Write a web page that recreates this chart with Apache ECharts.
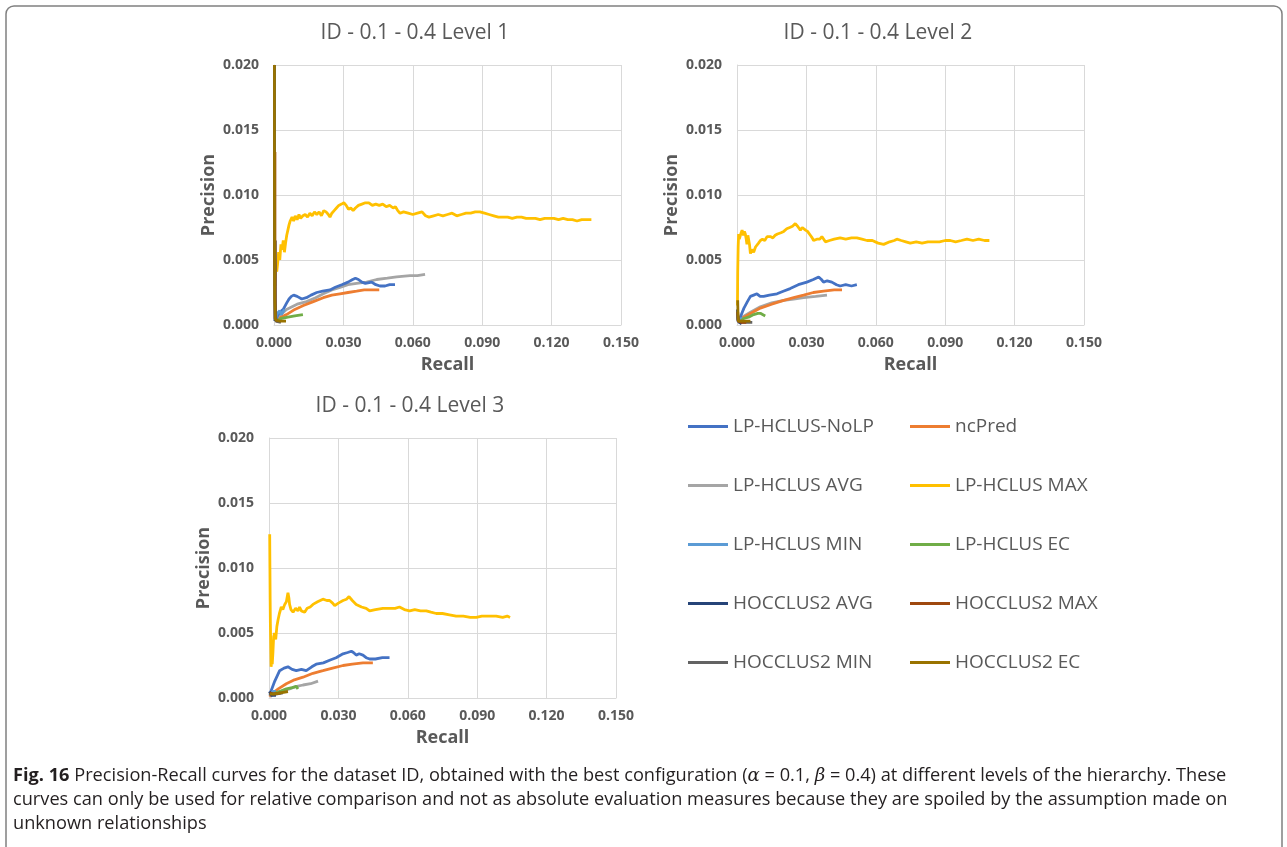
<!DOCTYPE html>
<html>
<head>
<meta charset="utf-8">
<script src="https://cdn.jsdelivr.net/npm/echarts@6/dist/echarts.min.js"></script>
<style>html,body{margin:0;padding:0;background:#fff}#c{width:1287px;height:847px}</style>
</head>
<body>
<div id="c"></div>
<script>
// ---------- tick labels / names ----------
const xTicks = [0, 0.03, 0.06, 0.09, 0.12, 0.15];
const yTicks = [0, 0.005, 0.01, 0.015, 0.02];
const chartTitles = ['ID - 0.1 - 0.4 Level 1', 'ID - 0.1 - 0.4 Level 2', 'ID - 0.1 - 0.4 Level 3'];
const seriesNames = ['LP-HCLUS-NoLP', 'ncPred', 'LP-HCLUS AVG', 'LP-HCLUS MAX', 'LP-HCLUS MIN',
  'LP-HCLUS EC', 'HOCCLUS2 AVG', 'HOCCLUS2 MAX', 'HOCCLUS2 MIN', 'HOCCLUS2 EC'];
const seriesColors = ['#4472C4', '#ED7D31', '#A5A5A5', '#FFC000', '#5B9BD5',
  '#70AD47', '#264478', '#9E480E', '#636363', '#997300'];

// ---------- Level 1 data: [recall, precision] ----------
const l1_noLP = [[0.0005,0.0003],[0.0015,0.0007],[0.0025,0.0010],[0.0040,0.0012],[0.0055,0.0017],[0.0065,0.0020],[0.0075,0.0022],[0.0085,0.0023],[0.0100,0.0022],[0.0120,0.0020],[0.0140,0.0021],[0.0160,0.0023],[0.0185,0.0025],[0.0210,0.0026],[0.0242,0.0027],[0.0265,0.0029],[0.0293,0.0031],[0.0320,0.0033],[0.0340,0.0035],[0.0352,0.0036],[0.0365,0.0035],[0.0380,0.0033],[0.0395,0.0032],[0.0422,0.0033],[0.0440,0.0031],[0.0458,0.0030],[0.0480,0.0030],[0.0500,0.0031],[0.0523,0.0031]];
const l1_ncPred = [[0.0010,0.0002],[0.0030,0.0006],[0.0054,0.0008],[0.0090,0.0012],[0.0127,0.0015],[0.0170,0.0018],[0.0213,0.0021],[0.0250,0.0023],[0.0285,0.0024],[0.0320,0.0025],[0.0357,0.0026],[0.0390,0.0027],[0.0415,0.0027],[0.0455,0.0027]];
const l1_avg = [[0.0010,0.0004],[0.0030,0.0008],[0.0054,0.0012],[0.0100,0.0016],[0.0141,0.0018],[0.0180,0.0021],[0.0213,0.0024],[0.0250,0.0027],[0.0285,0.0029],[0.0320,0.0031],[0.0357,0.0032],[0.0400,0.0033],[0.0444,0.0035],[0.0490,0.0036],[0.0530,0.0037],[0.0588,0.0038],[0.0620,0.0038],[0.0653,0.0039]];
const l1_max = [[0.0004,0.0030],[0.0008,0.0045],[0.0012,0.0041],[0.0016,0.0048],[0.0020,0.0056],[0.0025,0.0050],[0.0030,0.0062],[0.0035,0.0058],[0.0040,0.0065],[0.0045,0.0056],[0.0050,0.0063],[0.0055,0.0069],[0.0060,0.0073],[0.0065,0.0077],[0.0070,0.0080],[0.0078,0.0083],[0.0085,0.0080],[0.0092,0.0084],[0.0100,0.0081],[0.0108,0.0085],[0.0115,0.0082],[0.0125,0.0084],[0.0135,0.0085],[0.0145,0.0083],[0.0155,0.0086],[0.0165,0.0084],[0.0175,0.0087],[0.0185,0.0085],[0.0195,0.0087],[0.0205,0.0084],[0.0215,0.0088],[0.0225,0.0087],[0.0235,0.0085],[0.0242,0.0083],[0.0250,0.0086],[0.0260,0.0088],[0.0270,0.0090],[0.0280,0.0092],[0.0292,0.0093],[0.0302,0.0094],[0.0312,0.0092],[0.0322,0.0089],[0.0332,0.0090],[0.0342,0.0088],[0.0352,0.0090],[0.0365,0.0092],[0.0380,0.0093],[0.0395,0.0094],[0.0410,0.0094],[0.0425,0.0092],[0.0440,0.0093],[0.0455,0.0092],[0.0470,0.0093],[0.0485,0.0091],[0.0500,0.0092],[0.0515,0.0090],[0.0525,0.0091],[0.0535,0.0088],[0.0545,0.0086],[0.0560,0.0087],[0.0580,0.0086],[0.0600,0.0085],[0.0620,0.0086],[0.0640,0.0087],[0.0655,0.0084],[0.0670,0.0083],[0.0690,0.0084],[0.0710,0.0085],[0.0730,0.0084],[0.0750,0.0085],[0.0770,0.0086],[0.0790,0.0084],[0.0810,0.0085],[0.0830,0.0086],[0.0850,0.0086],[0.0870,0.0087],[0.0890,0.0087],[0.0910,0.0086],[0.0930,0.0085],[0.0950,0.0084],[0.0970,0.0083],[0.0990,0.0083],[0.1010,0.0083],[0.1030,0.0082],[0.1050,0.0083],[0.1070,0.0083],[0.1090,0.0082],[0.1110,0.0082],[0.1130,0.0082],[0.1150,0.0081],[0.1170,0.0082],[0.1190,0.0082],[0.1210,0.0082],[0.1230,0.0081],[0.1250,0.0082],[0.1270,0.0081],[0.1290,0.0081],[0.1310,0.0080],[0.1330,0.0081],[0.1350,0.0081],[0.1372,0.0081]];
const l1_min = [[0.0005,0.0004],[0.0015,0.0009],[0.0025,0.0011],[0.0032,0.0008],[0.0045,0.0012]];
const l1_ec = [[0.0010,0.0003],[0.0030,0.0005],[0.0060,0.0006],[0.0090,0.0007],[0.0125,0.0008]];
const l1_hAvg = [[0.0002,0.0200],[0.0002,0.0130],[0.0003,0.0040],[0.0004,0.0003]];
const l1_hMax = [[0.0004,0.0133],[0.0004,0.0050],[0.0005,0.0005],[0.0015,0.0003]];
const l1_hMin = [[0.0006,0.0065],[0.0006,0.0020],[0.0008,0.0003],[0.0030,0.0002]];
const l1_hEc = [[0.0002,0.0200],[0.0002,0.0100],[0.0003,0.0020],[0.0006,0.0004],[0.0025,0.0003],[0.0052,0.0003]];

// ---------- Level 2 data ----------
const l2_noLP = [[0.0005,0.0003],[0.0014,0.0006],[0.0030,0.0013],[0.0045,0.0018],[0.0058,0.0022],[0.0072,0.0023],[0.0086,0.0024],[0.0100,0.0022],[0.0115,0.0022],[0.0140,0.0023],[0.0173,0.0024],[0.0200,0.0026],[0.0230,0.0028],[0.0265,0.0031],[0.0302,0.0033],[0.0330,0.0035],[0.0353,0.0037],[0.0365,0.0035],[0.0374,0.0033],[0.0390,0.0034],[0.0410,0.0033],[0.0430,0.0031],[0.0446,0.0030],[0.0470,0.0031],[0.0495,0.0030],[0.0518,0.0031]];
const l2_ncPred = [[0.0008,0.0002],[0.0022,0.0005],[0.0060,0.0009],[0.0101,0.0013],[0.0150,0.0016],[0.0202,0.0019],[0.0245,0.0021],[0.0288,0.0023],[0.0330,0.0025],[0.0374,0.0026],[0.0420,0.0027],[0.0454,0.0027]];
const l2_avg = [[0.0008,0.0003],[0.0022,0.0006],[0.0060,0.0010],[0.0101,0.0014],[0.0150,0.0017],[0.0202,0.0019],[0.0245,0.0020],[0.0288,0.0021],[0.0340,0.0022],[0.0389,0.0023]];
const l2_max = [[0.0002,0.0015],[0.0003,0.0040],[0.0005,0.0060],[0.0007,0.0070],[0.0010,0.0066],[0.0014,0.0065],[0.0018,0.0071],[0.0022,0.0073],[0.0028,0.0069],[0.0032,0.0072],[0.0036,0.0070],[0.0040,0.0066],[0.0043,0.0062],[0.0047,0.0069],[0.0050,0.0070],[0.0054,0.0062],[0.0058,0.0055],[0.0065,0.0058],[0.0072,0.0056],[0.0080,0.0060],[0.0086,0.0059],[0.0093,0.0063],[0.0101,0.0065],[0.0110,0.0066],[0.0120,0.0065],[0.0130,0.0068],[0.0144,0.0068],[0.0155,0.0067],[0.0165,0.0069],[0.0175,0.0070],[0.0190,0.0071],[0.0202,0.0072],[0.0215,0.0074],[0.0228,0.0075],[0.0240,0.0076],[0.0252,0.0078],[0.0262,0.0076],[0.0274,0.0073],[0.0282,0.0075],[0.0288,0.0076],[0.0296,0.0073],[0.0305,0.0072],[0.0317,0.0069],[0.0325,0.0067],[0.0331,0.0065],[0.0345,0.0066],[0.0358,0.0066],[0.0367,0.0068],[0.0375,0.0066],[0.0382,0.0064],[0.0400,0.0065],[0.0420,0.0066],[0.0446,0.0067],[0.0470,0.0066],[0.0495,0.0067],[0.0518,0.0067],[0.0540,0.0066],[0.0562,0.0065],[0.0585,0.0065],[0.0610,0.0063],[0.0634,0.0062],[0.0660,0.0064],[0.0680,0.0065],[0.0691,0.0066],[0.0710,0.0065],[0.0730,0.0064],[0.0749,0.0063],[0.0775,0.0064],[0.0800,0.0063],[0.0825,0.0064],[0.0850,0.0064],[0.0875,0.0064],[0.0900,0.0065],[0.0922,0.0065],[0.0945,0.0064],[0.0970,0.0065],[0.0994,0.0066],[0.1020,0.0065],[0.1045,0.0066],[0.1070,0.0065],[0.1091,0.0065]];
const l2_min = [[0.0003,0.0002],[0.0010,0.0004],[0.0020,0.0005],[0.0030,0.0004]];
const l2_ec = [[0.0010,0.0002],[0.0029,0.0005],[0.0050,0.0006],[0.0072,0.0008],[0.0090,0.0009],[0.0101,0.0009],[0.0122,0.0007]];
const l2_hAvg = [[0.0002,0.0012],[0.0003,0.0004],[0.0010,0.0002],[0.0020,0.0001]];
const l2_hMax = [[0.0003,0.0010],[0.0005,0.0003],[0.0020,0.0002],[0.0040,0.0002]];
const l2_hMin = [[0.0005,0.0006],[0.0010,0.0002],[0.0040,0.0002],[0.0066,0.0002]];
const l2_hEc = [[0.0003,0.0019],[0.0004,0.0010],[0.0006,0.0003],[0.0025,0.0003],[0.0058,0.0003]];

// ---------- Level 3 data ----------
const l3_noLP = [[0.0005,0.0003],[0.0010,0.0006],[0.0025,0.0013],[0.0046,0.0021],[0.0065,0.0023],[0.0082,0.0024],[0.0100,0.0022],[0.0118,0.0021],[0.0140,0.0022],[0.0161,0.0021],[0.0185,0.0024],[0.0204,0.0026],[0.0235,0.0027],[0.0262,0.0029],[0.0290,0.0031],[0.0320,0.0034],[0.0340,0.0035],[0.0356,0.0036],[0.0365,0.0035],[0.0377,0.0033],[0.0390,0.0034],[0.0406,0.0033],[0.0420,0.0031],[0.0435,0.0030],[0.0460,0.0030],[0.0490,0.0031],[0.0521,0.0031]];
const l3_ncPred = [[0.0003,0.0001],[0.0010,0.0003],[0.0040,0.0007],[0.0075,0.0011],[0.0110,0.0014],[0.0147,0.0016],[0.0190,0.0019],[0.0233,0.0021],[0.0275,0.0023],[0.0320,0.0025],[0.0360,0.0026],[0.0406,0.0027],[0.0449,0.0027]];
const l3_avg = [[0.0005,0.0001],[0.0017,0.0003],[0.0050,0.0005],[0.0089,0.0007],[0.0120,0.0009],[0.0147,0.0010],[0.0180,0.0011],[0.0212,0.0013]];
const l3_max = [[0.0003,0.0126],[0.0004,0.0100],[0.0005,0.0075],[0.0006,0.0057],[0.0008,0.0035],[0.0009,0.0024],[0.0012,0.0028],[0.0014,0.0026],[0.0017,0.0035],[0.0020,0.0047],[0.0024,0.0050],[0.0029,0.0045],[0.0034,0.0055],[0.0039,0.0060],[0.0045,0.0065],[0.0053,0.0070],[0.0060,0.0068],[0.0068,0.0072],[0.0075,0.0074],[0.0080,0.0079],[0.0082,0.0081],[0.0086,0.0077],[0.0089,0.0072],[0.0095,0.0068],[0.0104,0.0066],[0.0115,0.0069],[0.0125,0.0067],[0.0132,0.0070],[0.0140,0.0067],[0.0154,0.0066],[0.0165,0.0069],[0.0178,0.0070],[0.0190,0.0072],[0.0210,0.0074],[0.0233,0.0076],[0.0250,0.0075],[0.0262,0.0075],[0.0275,0.0073],[0.0284,0.0071],[0.0300,0.0073],[0.0320,0.0075],[0.0335,0.0076],[0.0346,0.0078],[0.0360,0.0075],[0.0377,0.0072],[0.0400,0.0070],[0.0420,0.0069],[0.0435,0.0067],[0.0460,0.0068],[0.0492,0.0069],[0.0520,0.0069],[0.0545,0.0069],[0.0564,0.0070],[0.0585,0.0068],[0.0608,0.0067],[0.0630,0.0068],[0.0655,0.0067],[0.0680,0.0067],[0.0700,0.0066],[0.0723,0.0065],[0.0750,0.0065],[0.0780,0.0064],[0.0809,0.0063],[0.0840,0.0063],[0.0870,0.0062],[0.0896,0.0062],[0.0920,0.0063],[0.0950,0.0063],[0.0982,0.0063],[0.1010,0.0062],[0.1030,0.0063],[0.1042,0.0062]];
const l3_min = [[0.0003,0.0002],[0.0010,0.0004],[0.0020,0.0005],[0.0030,0.0005]];
const l3_ec = [[0.0008,0.0002],[0.0017,0.0003],[0.0045,0.0005],[0.0075,0.0007],[0.0100,0.0008],[0.0118,0.0009],[0.0125,0.0007]];
const l3_hAvg = [[0.0002,0.0005],[0.0010,0.0002],[0.0030,0.0002]];
const l3_hMax = [[0.0003,0.0004],[0.0020,0.0003],[0.0050,0.0004]];
const l3_hMin = [[0.0004,0.0003],[0.0030,0.0003],[0.0060,0.0004]];
const l3_hEc = [[0.0003,0.0003],[0.0020,0.0003],[0.0050,0.0004],[0.0082,0.0005]];

const levelData = [
  [l1_noLP, l1_ncPred, l1_avg, l1_max, l1_min, l1_ec, l1_hAvg, l1_hMax, l1_hMin, l1_hEc],
  [l2_noLP, l2_ncPred, l2_avg, l2_max, l2_min, l2_ec, l2_hAvg, l2_hMax, l2_hMin, l2_hEc],
  [l3_noLP, l3_ncPred, l3_avg, l3_max, l3_min, l3_ec, l3_hAvg, l3_hMax, l3_hMin, l3_hEc]
];
// draw order (later on top)
const drawOrder = [2, 1, 0, 4, 5, 3, 8, 6, 7, 9];

const captionBold = 'Fig. 16';
const captionLine1 = ' Precision-Recall curves for the dataset ID, obtained with the best configuration (';
const captionLine2 = 'curves can only be used for relative comparison and not as absolute evaluation measures because they are spoiled by the assumption made on';
const captionLine3 = 'unknown relationships';

// ---------- layout ----------
const FONT = '"Open Sans", "Noto Sans", sans-serif';
const GREY = '#595959';
const CAP = 18.2;
const grids = [
  {left: 274, top: 65, width: 347, height: 260},
  {left: 737, top: 65, width: 347, height: 260},
  {left: 269, top: 438, width: 347, height: 260}
];
const titlePos = [[415, 33], [878, 33], [410, 406]];

const chart = echarts.init(document.getElementById('c'), null, {renderer: 'canvas'});

const xAxes = [], yAxes = [], series = [];
grids.forEach((g, i) => {
  xAxes.push({
    type: 'value', gridIndex: i, min: xTicks[0], max: xTicks[xTicks.length - 1], interval: xTicks[1] - xTicks[0],
    name: 'Recall', nameLocation: 'middle', nameGap: 31,
    nameTextStyle: {color: GREY, fontSize: 18, fontWeight: 'bold', fontFamily: FONT},
    axisLine: {show: true, lineStyle: {color: '#D9D9D9', width: 1}},
    axisTick: {show: false},
    axisLabel: {color: GREY, fontSize: 14, fontWeight: 'bold', fontFamily: FONT, margin: 11,
      formatter: v => v.toFixed(3)},
    splitLine: {show: true, lineStyle: {color: '#D9D9D9', width: 1}}
  });
  yAxes.push({
    type: 'value', gridIndex: i, min: yTicks[0], max: yTicks[yTicks.length - 1], interval: yTicks[1] - yTicks[0],
    name: 'Precision', nameLocation: 'middle', nameGap: 56,
    nameTextStyle: {color: GREY, fontSize: 18, fontWeight: 'bold', fontFamily: FONT},
    axisLine: {show: true, lineStyle: {color: '#D9D9D9', width: 1}},
    axisTick: {show: false},
    axisLabel: {color: GREY, fontSize: 14, fontWeight: 'bold', fontFamily: FONT, margin: 15,
      formatter: v => v.toFixed(3)},
    splitLine: {show: true, lineStyle: {color: '#D9D9D9', width: 1}}
  });
  drawOrder.forEach((k, z) => {
    series.push({
      type: 'line', name: seriesNames[k], xAxisIndex: i, yAxisIndex: i,
      data: levelData[i][k], showSymbol: false, symbol: 'none',
      lineStyle: {color: seriesColors[k], width: 2.8}, itemStyle: {color: seriesColors[k]},
      z: 2 + z * 0.01, animation: false, clip: true
    });
  });
});

const legendCommon = {
  orient: 'vertical', icon: 'rect', itemWidth: 40, itemHeight: 3, itemGap: 40, padding: 0,
  selectedMode: false,
  textStyle: {color: GREY, fontSize: 19, fontFamily: FONT, padding: [0, 0, 0, 0]}
};

const graphics = [
  {type: 'rect', shape: {x: 6, y: 6, width: 1276, height: 900, r: 8}, silent: true,
   style: {fill: 'none', stroke: '#808080', lineWidth: 1.5}}
];
chartTitles.forEach((t, i) => {
  graphics.push({type: 'text', x: titlePos[i][0], y: titlePos[i][1], silent: true,
    style: {text: t, fill: GREY, font: '21px ' + FONT, align: 'center', verticalAlign: 'middle'}});
});
graphics.push({type: 'text', x: 13, y: 776, silent: true,
  style: {text: '{b|' + captionBold + '}' + captionLine1 + '{i|α} = 0.1, {i|β} = 0.4) at different levels of the hierarchy. These',
    fill: '#231F20', font: CAP + 'px ' + FONT, verticalAlign: 'middle',
    rich: {b: {fontWeight: 'bold', fontSize: CAP, fontFamily: FONT, fill: '#231F20'},
           i: {fontStyle: 'italic', fontSize: CAP, fontFamily: 'DejaVu Serif', fill: '#231F20'}}}});
graphics.push({type: 'text', x: 13, y: 800, silent: true,
  style: {text: captionLine2, fill: '#231F20', font: CAP + 'px ' + FONT, verticalAlign: 'middle'}});
graphics.push({type: 'text', x: 13, y: 824, silent: true,
  style: {text: captionLine3, fill: '#231F20', font: CAP + 'px ' + FONT, verticalAlign: 'middle'}});

chart.setOption({
  animation: false,
  backgroundColor: '#fff',
  grid: grids.map(g => Object.assign({containLabel: false}, g)),
  xAxis: xAxes,
  yAxis: yAxes,
  legend: [
    Object.assign({}, legendCommon, {left: 688, top: 417, data: [seriesNames[0], seriesNames[2], seriesNames[4], seriesNames[6], seriesNames[8]]}),
    Object.assign({}, legendCommon, {left: 910, top: 417, data: [seriesNames[1], seriesNames[3], seriesNames[5], seriesNames[7], seriesNames[9]]})
  ],
  series: series,
  graphic: graphics
});
</script>
</body>
</html>
